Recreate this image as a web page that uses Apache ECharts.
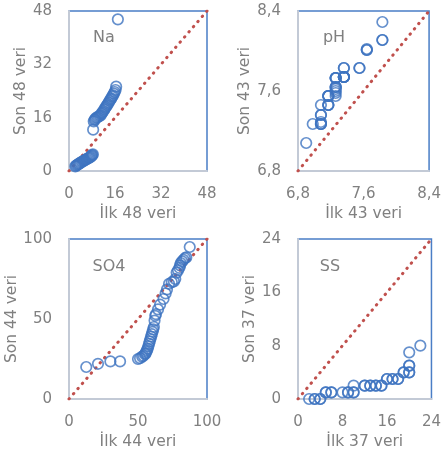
<!DOCTYPE html>
<html><head><meta charset="utf-8">
<script src="https://cdn.jsdelivr.net/npm/echarts@6/dist/echarts.min.js"></script>
<style>html,body{margin:0;padding:0;background:#fff}#c{width:444px;height:452px}</style>
</head><body><div id="c"></div>
<script>
// Na (İlk 48 veri vs Son 48 veri)
var naX = [2.2,2.5,2.8,3.1,3.4,3.7,4.0,4.4,4.8,5.2,5.6,6.0,6.4,6.8,7.1,7.4,7.7,7.9,8.1,8.3,
  8.4,8.6,8.9,9.1,9.4,9.8,10.2,10.6,11.0,11.3,11.6,12.0,12.3,12.6,12.9,13.2,13.5,13.8,14.1,14.4,14.7,15.0,15.3,15.6,15.9,16.2,16.4,17.0];
var naY = [1.4,1.6,1.8,2.0,2.1,2.3,2.5,2.7,2.9,3.1,3.3,3.5,3.7,3.9,4.0,4.2,4.4,4.6,4.8,5.0,
  12.4,14.9,15.3,15.6,15.9,16.1,16.3,16.5,16.7,17.2,17.6,18.0,18.5,18.9,19.3,19.7,20.1,20.5,21.0,21.4,21.8,22.3,22.7,23.2,23.7,24.3,25.3,45.5];
// pH (İlk 43 veri vs Son 43 veri)
var phX = [6.90,6.98,7.08,7.08,7.08,7.08,7.08,7.08,7.08,7.17,7.17,7.17,7.17,7.17,7.17,7.17,7.26,7.26,7.26,7.26,7.26,7.26,7.26,7.26,7.26,7.26,7.26,7.36,7.36,7.36,7.36,7.36,7.36,7.36,7.36,7.55,7.55,7.64,7.64,7.64,7.83,7.83,7.83];
var phY = [7.08,7.27,7.27,7.27,7.27,7.29,7.36,7.36,7.46,7.46,7.46,7.46,7.55,7.55,7.55,7.55,7.55,7.58,7.60,7.62,7.64,7.64,7.64,7.73,7.73,7.73,7.73,7.74,7.74,7.74,7.74,7.74,7.74,7.83,7.83,7.83,7.83,8.01,8.01,8.02,8.11,8.11,8.29];
// SO4 (İlk 44 veri vs Son 44 veri)
var so4X = [12.5,21,30,37,50,51.5,53,54,55,55.5,56,56.5,57,57.5,58,58.5,59,59.5,60,60.5,61,61.5,62,62.5,63,64.5,66,68.5,70,71,72.5,74.5,76,77,78,79,80,80.5,81,82,83,84,85,87.5];
var so4Y = [20,22,23.5,23.5,25,25.5,26.5,27,28,28.5,29.5,30.5,31.5,33,34.5,36,37.5,39,40.5,42,43.5,45,49,52,53,56,59,62.5,66,68.5,72,73,73.5,75,79,80.5,82,83.5,85,86,87,88,88.5,95];
// SS (İlk 37 veri vs Son 37 veri)
var ssX = [2,3,3,4,4,5,5,6,6,8,9,9,10,10,10,12,12,13,13,14,14,15,15,16,16,17,17,18,18,19,19,20,20,20,20,20,22];
var ssY = [0,0,0,0,0,1,1,1,1,1,1,1,1,1,2,2,2,2,2,2,2,2,2,3,3,3,3,3,3,4,4,4,4,5,5,7,8];

var panelLabels = ['Na','pH','SO4','SS'];
var xNames = ['İlk 48 veri','İlk 43 veri','İlk 44 veri','İlk 37 veri'];
var yNames = ['Son 48 veri','Son 43 veri','Son 44 veri','Son 37 veri'];
var axMin = [0, 6.8, 0, 0];
var axMax = [48, 8.4, 100, 24];
var axInt = [16, 0.8, 50, 8];

var xs = [naX, phX, so4X, ssX];
var ys = [naY, phY, so4Y, ssY];

var grids = [
  {left:69, top:11, width:138, height:160},
  {left:298, top:11, width:137, height:160},
  {left:69, top:239, width:138, height:160},
  {left:298, top:239, width:137, height:160}
];
var labelPos = [[104,38],[334,38],[109,267],[330,267]];

var FONT = 'DejaVu Sans';
var TXT = '#808080';
function fmt(i){
  return function(v){ return i===1 ? v.toFixed(1).replace('.', ',') : String(Math.round(v)); };
}
var xAxes = [], yAxes = [], series = [], graphics = [];
for (var i=0;i<4;i++){
  grids[i].show = true; grids[i].borderColor = '#4a7ec6'; grids[i].borderWidth = 1.5; grids[i].containLabel=false;
  xAxes.push({type:'value', gridIndex:i, min:axMin[i], max:axMax[i], interval:axInt[i],
    name:xNames[i], nameLocation:'middle', nameGap:35,
    nameTextStyle:{fontFamily:FONT, fontSize:15.5, color:TXT},
    axisLine:{show:true, lineStyle:{color:'#c3cad6', width:2}}, axisTick:{show:false}, splitLine:{show:false},
    axisLabel:{fontFamily:FONT, fontSize:15, color:TXT, margin:16, formatter:fmt(i)}});
  yAxes.push({type:'value', gridIndex:i, min:axMin[i], max:axMax[i], interval:axInt[i],
    name:yNames[i], nameLocation:'middle', nameGap:i===1?40:34,
    nameTextStyle:{fontFamily:FONT, fontSize:15.5, color:TXT},
    axisLine:{show:true, lineStyle:{color:'#c3cad6', width:2}}, axisTick:{show:false}, splitLine:{show:false},
    axisLabel:{fontFamily:FONT, fontSize:15, color:TXT, margin:17, formatter:fmt(i)}});
  var pts = [];
  for (var k=0;k<xs[i].length;k++) pts.push([xs[i][k], ys[i][k]]);
  series.push({type:'line', xAxisIndex:i, yAxisIndex:i, data:[[axMin[i],axMin[i]],[axMax[i],axMax[i]]],
    symbol:'none', silent:true, z:1,
    lineStyle:{color:'#c0504d', width:3, type:[0.5,6.3], cap:'round'}});
  series.push({type:'scatter', xAxisIndex:i, yAxisIndex:i, data:pts, symbol:'circle', symbolSize:10.5, z:2,
    itemStyle:{color:'rgba(0,0,0,0)', borderColor:'#3f74c0', borderWidth:1.7}});
  graphics.push({type:'text', x:labelPos[i][0], y:labelPos[i][1],
    style:{text:panelLabels[i], fontFamily:FONT, fontSize:16, fill:TXT, textAlign:'center', textVerticalAlign:'middle'}});
}
var chart = echarts.init(document.getElementById('c'), null, {renderer:'canvas'});
chart.setOption({animation:false, grid:grids, xAxis:xAxes, yAxis:yAxes, series:series, graphic:graphics});
</script></body></html>
